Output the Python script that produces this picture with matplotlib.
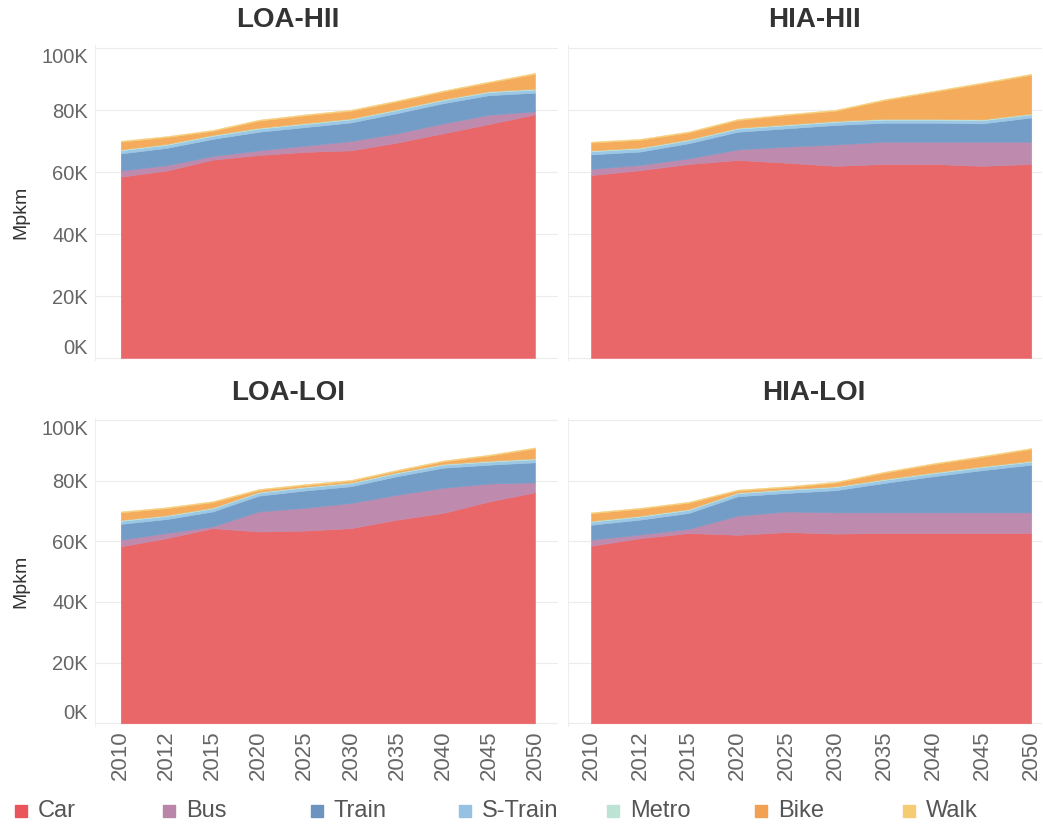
import matplotlib
matplotlib.use("Agg")
import matplotlib.pyplot as plt
from matplotlib.patches import Rectangle
from matplotlib.ticker import FuncFormatter

plt.rcParams['font.family'] = ['Liberation Sans', 'DejaVu Sans']

years = ["2010", "2012", "2015", "2020", "2025", "2030", "2035", "2040", "2045", "2050"]
modes = ["Car", "Bus", "Train", "S-Train", "Metro", "Bike", "Walk"]
colors = ["#EA6769", "#BE8AAE", "#739CC6", "#9CC7E5", "#BFE4D6", "#F4AB5C", "#F6CF7C"]
legend_colors = ["#E8565B", "#B986AA", "#6C94BF", "#95C2E2", "#BDE3D4", "#F2A152", "#F5CB74"]

# values in thousand Mpkm
loa_hii = {
    "Car":     [58.5, 60.5, 64.0, 65.5, 66.5, 67.0, 69.5, 72.5, 75.5, 78.6],
    "Bus":     [2.0, 1.7, 1.2, 1.5, 2.0, 3.0, 3.0, 3.2, 3.0, 1.0],
    "Train":   [5.5, 5.6, 5.5, 6.0, 6.0, 6.0, 6.5, 6.5, 6.3, 6.0],
    "S-Train": [1.0, 1.0, 1.0, 1.0, 1.0, 1.0, 1.0, 1.0, 1.0, 1.0],
    "Metro":   [0.3, 0.3, 0.3, 0.3, 0.3, 0.3, 0.3, 0.3, 0.3, 0.3],
    "Bike":    [2.5, 2.2, 1.3, 2.3, 2.5, 2.5, 2.5, 2.5, 2.8, 4.8],
    "Walk":    [0.3, 0.3, 0.3, 0.3, 0.3, 0.3, 0.3, 0.3, 0.3, 0.3],
}
hia_hii = {
    "Car":     [59.0, 60.6, 62.6, 63.9, 63.0, 62.0, 62.6, 62.6, 62.0, 62.6],
    "Bus":     [2.0, 1.7, 1.8, 3.4, 5.2, 6.9, 7.2, 7.2, 7.8, 7.2],
    "Train":   [4.7, 4.3, 4.9, 5.7, 5.9, 6.3, 6.1, 6.1, 5.9, 7.8],
    "S-Train": [1.0, 1.0, 1.0, 1.0, 1.0, 1.0, 1.0, 1.0, 1.0, 1.0],
    "Metro":   [0.3, 0.3, 0.3, 0.3, 0.3, 0.3, 0.3, 0.3, 0.3, 0.3],
    "Bike":    [2.5, 2.5, 2.2, 2.5, 3.0, 3.3, 6.0, 8.7, 11.6, 12.5],
    "Walk":    [0.3, 0.3, 0.3, 0.3, 0.3, 0.3, 0.3, 0.3, 0.3, 0.3],
}
loa_loi = {
    "Car":     [58.3, 61.0, 64.3, 63.2, 63.5, 64.3, 67.1, 69.3, 73.1, 76.1],
    "Bus":     [2.2, 1.7, 0.6, 6.6, 7.5, 8.3, 8.2, 8.3, 5.9, 3.3],
    "Train":   [5.2, 4.6, 4.9, 5.2, 5.7, 5.5, 6.1, 6.6, 6.2, 6.6],
    "S-Train": [1.0, 1.0, 1.0, 1.0, 1.0, 1.0, 1.0, 1.0, 1.0, 1.0],
    "Metro":   [0.3, 0.3, 0.3, 0.3, 0.3, 0.3, 0.3, 0.3, 0.3, 0.3],
    "Bike":    [2.5, 2.3, 1.8, 0.6, 0.5, 0.5, 0.5, 0.8, 1.7, 3.3],
    "Walk":    [0.3, 0.3, 0.3, 0.3, 0.3, 0.3, 0.3, 0.3, 0.3, 0.3],
}
hia_loi = {
    "Car":     [58.5, 61.0, 62.7, 62.1, 63.0, 62.5, 62.7, 62.7, 62.7, 62.7],
    "Bus":     [2.0, 1.2, 1.4, 6.3, 6.8, 7.0, 6.8, 6.8, 6.8, 6.8],
    "Train":   [4.9, 4.9, 5.2, 6.4, 6.1, 7.3, 9.7, 11.9, 13.9, 15.7],
    "S-Train": [1.0, 1.0, 1.0, 1.0, 1.0, 1.0, 1.0, 1.0, 1.0, 1.0],
    "Metro":   [0.3, 0.3, 0.3, 0.3, 0.3, 0.3, 0.3, 0.3, 0.3, 0.3],
    "Bike":    [2.5, 2.3, 2.1, 0.6, 0.6, 1.2, 2.1, 2.7, 3.1, 3.9],
    "Walk":    [0.3, 0.3, 0.3, 0.3, 0.3, 0.3, 0.3, 0.3, 0.3, 0.3],
}

panels = [("LOA-HII", loa_hii), ("HIA-HII", hia_hii), ("LOA-LOI", loa_loi), ("HIA-LOI", hia_loi)]

W, H = 1043, 825
fig = plt.figure(figsize=(W / 100, H / 100), dpi=100)


def px_axes(x0, y0, x1, y1):
    return fig.add_axes([x0 / W, 1 - y1 / H, (x1 - x0) / W, (y1 - y0) / H])


# pixel boxes of the four panes
boxes = [(95, 45, 558, 360), (568, 45, 1042, 360), (95, 418, 558, 726), (568, 418, 1042, 726)]
xlims = [(-0.56, 9.5), (-0.47, 9.22), (-0.56, 9.5), (-0.47, 9.22)]
ylims = [(-0.65, 101.0), (-0.65, 101.0), (-0.9, 100.6), (-0.9, 100.6)]
title_x = [288, 814, 288, 814]
title_y = [20, 20, 393, 393]

xs = list(range(len(years)))
for i, (name, data) in enumerate(panels):
    ax = px_axes(*boxes[i])
    ax.stackplot(xs, *[data[m] for m in modes], colors=colors, linewidth=0.4,
                 edgecolor="face")
    ax.set_xlim(*xlims[i])
    ax.set_ylim(*ylims[i])
    ax.set_yticks([0, 20, 40, 60, 80, 100])
    ax.yaxis.set_major_formatter(FuncFormatter(lambda v, p: f"{v:.0f}K"))
    ax.grid(axis="y", color="#ececec", linewidth=0.8)
    ax.set_axisbelow(True)
    for s in ["top", "right", "bottom"]:
        ax.spines[s].set_visible(False)
    ax.spines["left"].set_color("#eeeeee")
    ax.tick_params(axis="y", length=0, labelsize=14.5, labelcolor="#666666", pad=5)
    ax.tick_params(axis="x", length=0, labelsize=16, labelcolor="#666666", pad=3)
    ax.set_xticks(xs)
    if i >= 2:
        ax.set_xticklabels(years, rotation=90)
    else:
        ax.set_xticklabels([])
    if i % 2 == 0:
        ax.set_ylabel("Mpkm", fontsize=14, color="#333333")
        ax.yaxis.set_label_coords(-0.142, 0.47)
        for lbl in ax.get_yticklabels():
            if lbl.get_text() == "100K":
                lbl.set_va("top")
            elif lbl.get_text() == "0K":
                lbl.set_va("bottom")
    else:
        ax.set_yticklabels([])
    fig.text(title_x[i] / W, 1 - title_y[i] / H, name, ha="center", va="center",
             fontsize=20, fontweight="bold", color="#333333")

# legend row
for i, m in enumerate(modes):
    x = 15 + i * 148
    fig.patches.append(Rectangle((x / W, 1 - 817 / H), 12 / W, 12 / H,
                                 transform=fig.transFigure, color=legend_colors[i]))
    fig.text((x + 23) / W, 1 - 811 / H, m, ha="left", va="center", fontsize=17, color="#555555")

fig.savefig("out.png", dpi=100)
